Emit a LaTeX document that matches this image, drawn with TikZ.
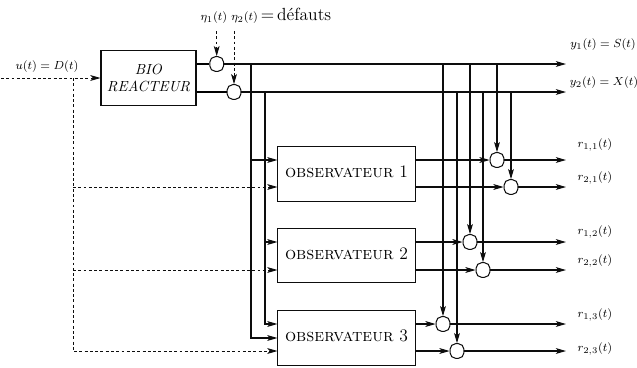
\documentclass[tikz,border=0pt]{standalone}
\usepackage{amsmath}
\usepackage{amssymb}
\usetikzlibrary{arrows.meta, positioning}

\begin{document}
\begin{tikzpicture}[x=0.024cm, y=-0.024cm, line width=0.7pt]

\definecolor{linecolor}{rgb}{0.05, 0.05, 0.05}

\tikzstyle{bloc} = [rectangle, draw=linecolor, minimum width=2.28cm, minimum height=1.3cm, align=center]
\tikzstyle{obsbloc} = [rectangle, draw=linecolor, minimum width=3.29cm, minimum height=1.31cm, font=\large]
\tikzstyle{som} = [rectangle, rounded corners=0.13cm, draw=linecolor, minimum width=0.33cm, minimum height=0.35cm, inner sep=0pt]
\tikzstyle{arrow} = [-{Stealth[length=7pt, width=4pt, inset=1.8pt]}, draw=linecolor]
\tikzstyle{dasharrow} = [-{Stealth[length=7pt, width=4pt, inset=1.8pt]}, dash pattern=on 2pt off 1.6pt, line width=0.6pt, draw=linecolor]
\tikzstyle{lbl} = [inner sep=1pt, font=\footnotesize]

\useasboundingbox (0,0) rectangle (637,367);

\node[bloc] (BIO) at (148.5,78) {\textit{BIO}\\ \textit{REACTEUR}};
\node[som] (E1) at (216.7,64) {};
\node[som] (E2) at (234,92) {};

\node[obsbloc] (O1) at (346.5,174) {\raisebox{3pt}{\textsc{observateur} 1}};
\node[obsbloc] (O2) at (346.5,255.5) {\raisebox{3pt}{\textsc{observateur} 2}};
\node[obsbloc] (O3) at (346.5,338) {\raisebox{3pt}{\textsc{observateur} 3}};

\node[som] (R11) at (497,160) {};
\node[som] (R21) at (511,187) {};
\node[som] (R12) at (470,242) {};
\node[som] (R22) at (483,270) {};
\node[som] (R13) at (443,324) {};
\node[som] (R23) at (457,351) {};

\coordinate (U0) at (1,78);
\coordinate (UD) at (73,78);
\coordinate (B1) at (251,64);
\coordinate (B2) at (265,92);
\coordinate (Y1) at (566,64);
\coordinate (Y2) at (566,92);
\coordinate (H) at (0,31);

\node[lbl] (LU) at (47,67) {$u(t) = D(t)$};
\node (ETA) at (266,16) {{\footnotesize$\eta_1(t)$ $\eta_2(t)$}\large$\,=\,$défauts};
\node[lbl] (LY1) at (603,45) {$y_1(t) = S(t)$};
\node[lbl] (LY2) at (604,83) {$y_2(t) = X(t)$};
\node[lbl] (LR11) at (595,145) {$r_{1,1}(t)$};
\node[lbl] (LR21) at (595,178) {$r_{2,1}(t)$};
\node[lbl] (LR12) at (595,232) {$r_{1,2}(t)$};
\node[lbl] (LR22) at (595,261) {$r_{2,2}(t)$};
\node[lbl] (LR13) at (595,315) {$r_{1,3}(t)$};
\node[lbl] (LR23) at (595,349) {$r_{2,3}(t)$};

\draw[dasharrow] (U0) -- (BIO.west);
\draw[dasharrow] (UD) |- (O3.west |- R23);
\draw[dasharrow] (UD |- R21) -- (O1.west |- R21);
\draw[dasharrow] (UD |- R22) -- (O2.west |- R22);

\draw[dasharrow] (E1 |- H) -- (E1);
\draw[dasharrow] (E2 |- H) -- (E2);

\draw (BIO.east |- E1) -- (E1);
\draw (BIO.east |- E2) -- (E2);
\draw[arrow] (E1) -- (Y1);
\draw[arrow] (E2) -- (Y2);

\draw[arrow] (B1) |- (O3.west);
\draw[arrow] (B1 |- R11) -- (O1.west |- R11);
\draw[arrow] (B2) |- (O3.west |- R13);
\draw[arrow] (B2 |- R12) -- (O2.west |- R12);

\draw[arrow] (R11 |- Y1) -- (R11);
\draw[arrow] (R21 |- Y2) -- (R21);
\draw[arrow] (R12 |- Y1) -- (R12);
\draw[arrow] (R22 |- Y2) -- (R22);
\draw[arrow] (R13 |- Y1) -- (R13);
\draw[arrow] (R23 |- Y2) -- (R23);

\draw[arrow] (O1.east |- R11) -- (R11);
\draw[arrow] (O1.east |- R21) -- (R21);
\draw[arrow] (O2.east |- R12) -- (R12);
\draw[arrow] (O2.east |- R22) -- (R22);
\draw[arrow] (O3.east |- R13) -- (R13);
\draw[arrow] (O3.east |- R23) -- (R23);

\draw[arrow] (R11) -- (R11 -| Y1);
\draw[arrow] (R21) -- (R21 -| Y1);
\draw[arrow] (R12) -- (R12 -| Y1);
\draw[arrow] (R22) -- (R22 -| Y1);
\draw[arrow] (R13) -- (R13 -| Y1);
\draw[arrow] (R23) -- (R23 -| Y1);

\end{tikzpicture}
\end{document}
